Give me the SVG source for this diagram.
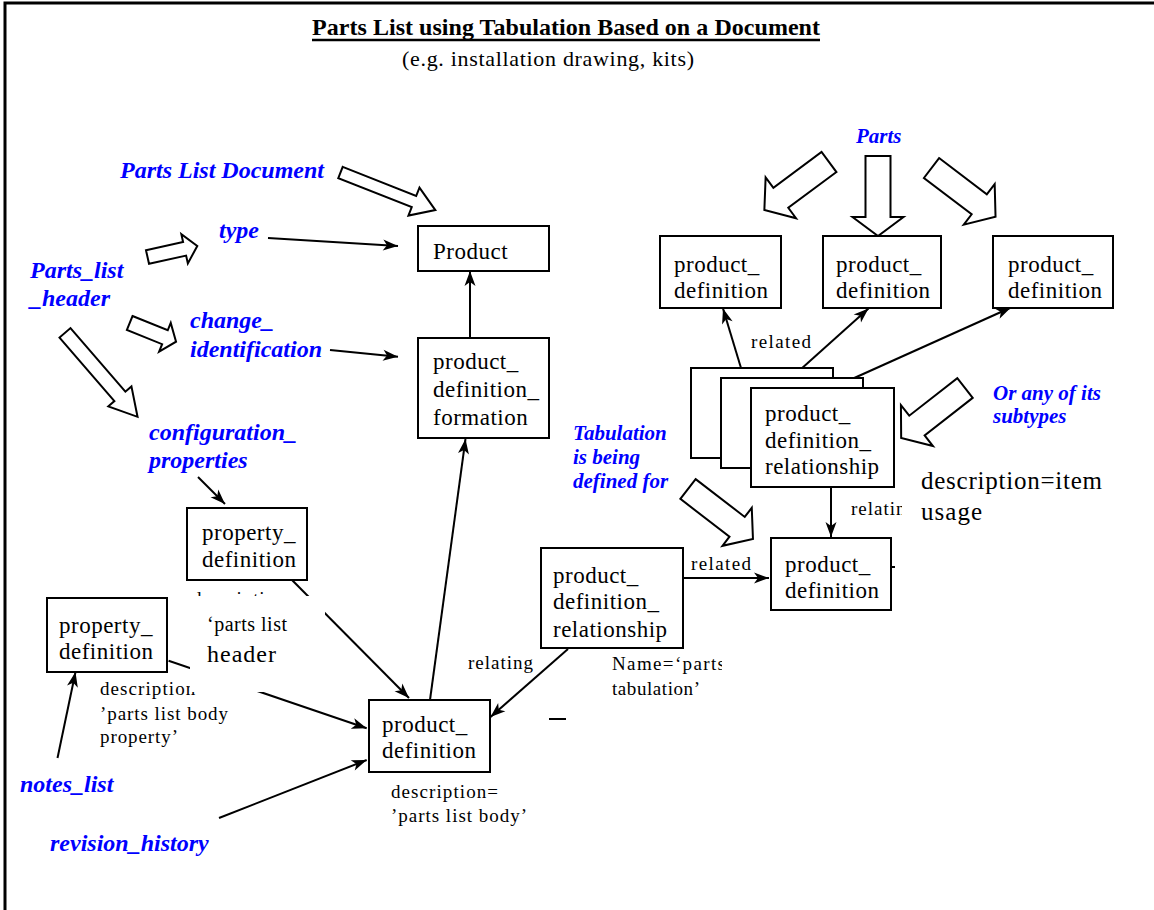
<svg xmlns="http://www.w3.org/2000/svg" width="1154" height="910" viewBox="0 0 1154 910">
  <style>
    .frame { stroke: #000; stroke-width: 3; fill: none; }
    .box { fill: #fff; stroke: #000; stroke-width: 2; }
    .block { fill: #fff; stroke: #000; stroke-width: 2; stroke-linejoin: miter; }
    .conn { stroke: #000; stroke-width: 2; fill: none; marker-end: url(#ah); }
    .plain { stroke: #000; stroke-width: 2; fill: none; }
    .t { font-family: "Liberation Serif", "Times New Roman", serif; fill: #000; }
    .bt { font-family: "Liberation Serif", "Times New Roman", serif; font-size: 23px; letter-spacing: 0.5px; fill: #000; }
    .note { font-family: "Liberation Serif", "Times New Roman", serif; font-size: 19px; fill: #000; }
    .blue { font-family: "Liberation Serif", "Times New Roman", serif; font-weight: bold; font-style: italic; fill: #0000ff; }
    .bl { font-size: 24px; }
    .bs { font-size: 21px; }
  </style>
  <defs>
    <marker id="ah" viewBox="-16 -6 17 12" refX="0" refY="0" markerWidth="17" markerHeight="12" markerUnits="userSpaceOnUse" orient="auto">
      <path d="M0,0 L-15,-5.5 L-11,0 L-15,5.5 Z" fill="#000"/>
    </marker>
    <clipPath id="clipRelating"><rect x="840" y="490" width="62" height="40"/></clipPath>
    <clipPath id="clipName"><rect x="600" y="650" width="122" height="30"/></clipPath>
  </defs>

  <rect x="0" y="0" width="1154" height="910" fill="#fff"/>

  <!-- page frame (top and left rules) -->
  <path class="frame" d="M5,910 V3 H1154"/>

  <!-- heading -->
  <g id="title">
    <text class="t" x="312" y="35" font-size="24" font-weight="bold" textLength="508">Parts List using Tabulation Based on a Document</text>
    <line x1="312" y1="40" x2="820" y2="40" stroke="#000" stroke-width="2.5"/>
    <text class="t" x="402" y="66" font-size="22" textLength="292">(e.g. installation drawing, kits)</text>
  </g>

  <!-- hollow block arrows -->
  <g id="block-arrows">
    <polygon class="block" transform="translate(340.5,172.5) rotate(21.6)" points="0,-6 79,-6 79,-15 102,0 79,15 79,6 0,6"/>
    <polygon class="block" transform="translate(147.5,257) rotate(-12.5)" points="0,-7 38,-7 38,-15 51,0 38,15 38,7 0,7"/>
    <polygon class="block" transform="translate(129.7,323) rotate(22)" points="0,-7.5 38,-7.5 38,-15.5 50,0 38,15.5 38,7.5 0,7.5"/>
    <polygon class="block" transform="translate(65,332.8) rotate(49.2)" points="0,-7.25 84,-7.25 84,-15.25 111,0 84,15.25 84,7.25 0,7.25"/>
    <polygon class="block" transform="translate(829,162) rotate(143.4)" points="0,-12.5 60,-12.5 60,-25.5 80.5,0 60,25.5 60,12.5 0,12.5"/>
    <polygon class="block" transform="translate(878,156) rotate(90)" points="0,-12.5 61,-12.5 61,-25.5 80,0 61,25.5 61,12.5 0,12.5"/>
    <polygon class="block" transform="translate(931.5,168) rotate(37.3)" points="0,-12.5 60,-12.5 60,-25.5 80.5,0 60,25.5 60,12.5 0,12.5"/>
    <polygon class="block" transform="translate(965,388) rotate(142)" points="0,-12.5 61,-12.5 61,-26 81,0 61,26 61,12.5 0,12.5"/>
    <polygon class="block" transform="translate(688,489) rotate(37.6)" points="0,-12.5 62,-12.5 62,-24 82,0 62,24 62,12.5 0,12.5"/>
  </g>

  <!-- annotation text partly covered by the header text box -->
  <g id="covered-notes">
    <text class="note" x="192" y="605" textLength="105">description=</text>
    <text class="note" x="100" y="695" textLength="107">description=</text>
    <text class="note" x="100" y="720" textLength="128">’parts list body</text>
    <text class="note" x="100" y="743" textLength="78">property’</text>
  </g>

  <!-- connectors -->
  <g id="connectors">
    <line class="conn" x1="268" y1="238" x2="398" y2="246"/>
    <line class="conn" x1="330" y1="350" x2="398" y2="356.7"/>
    <line class="conn" x1="470" y1="338" x2="470" y2="271"/>
    <line class="conn" x1="430" y1="700" x2="465.5" y2="439"/>
    <line class="conn" x1="198" y1="477" x2="225" y2="504"/>
    <line class="conn" x1="292" y1="580" x2="409" y2="698"/>
    <line class="conn" x1="168.6" y1="660.7" x2="366.7" y2="728.3"/>
    <line class="conn" x1="57.5" y1="758" x2="75.5" y2="672"/>
    <line class="conn" x1="219" y1="818" x2="366.7" y2="760"/>
    <line class="conn" x1="568" y1="649" x2="490.5" y2="717"/>
    <line class="conn" x1="681" y1="578" x2="769" y2="578"/>
    <line class="conn" x1="831" y1="488" x2="831" y2="537"/>
    <line class="conn" x1="741" y1="368" x2="723" y2="308.5"/>
    <line class="conn" x1="791" y1="378" x2="868.5" y2="308.5"/>
    <line class="conn" x1="832" y1="388" x2="1011" y2="307.5"/>
    <line class="plain" x1="549" y1="719" x2="566" y2="719" stroke-width="1.5"/>
    <line class="plain" x1="890" y1="567" x2="895" y2="567" stroke-width="1.5"/>
  </g>

  <!-- header text box (opaque background) -->
  <g id="header-note">
    <rect x="190" y="596" width="135" height="96" fill="#fff"/>
    <text class="t" x="207" y="631" font-size="20" textLength="80">‘parts list</text>
    <text class="t" x="207" y="662" font-size="24" textLength="69">header</text>
  </g>

  <!-- nodes -->
  <g id="product">
    <rect class="box" x="418" y="226" width="131" height="45"/>
    <text class="bt" x="433" y="259">Product</text>
  </g>
  <g id="product-definition-formation">
    <rect class="box" x="418" y="338" width="131" height="100"/>
    <text class="bt" x="433" y="369">product_</text>
    <text class="bt" x="433" y="397">definition_</text>
    <text class="bt" x="433" y="425">formation</text>
  </g>
  <g id="part-definition-1">
    <rect class="box" x="660" y="236" width="121" height="72"/>
    <text class="bt" x="674" y="272">product_</text>
    <text class="bt" x="674" y="298">definition</text>
  </g>
  <g id="part-definition-2">
    <rect class="box" x="823" y="236" width="118" height="72"/>
    <text class="bt" x="836" y="272">product_</text>
    <text class="bt" x="836" y="298">definition</text>
  </g>
  <g id="part-definition-3">
    <rect class="box" x="993" y="236" width="120" height="72"/>
    <text class="bt" x="1008" y="272">product_</text>
    <text class="bt" x="1008" y="298">definition</text>
  </g>
  <g id="item-usage-stack">
    <rect class="box" x="691" y="368" width="142" height="90"/>
    <rect class="box" x="721" y="378" width="142" height="90"/>
    <rect class="box" x="751" y="388" width="143" height="99"/>
    <text class="bt" x="765" y="421">product_</text>
    <text class="bt" x="765" y="448">definition_</text>
    <text class="bt" x="765" y="474">relationship</text>
  </g>
  <g id="tabulated-definition">
    <rect class="box" x="771" y="538" width="120" height="72"/>
    <text class="bt" x="785" y="572">product_</text>
    <text class="bt" x="785" y="598">definition</text>
  </g>
  <g id="tabulation-relationship">
    <rect class="box" x="541" y="548" width="142" height="100"/>
    <text class="bt" x="553" y="583">product_</text>
    <text class="bt" x="553" y="609">definition_</text>
    <text class="bt" x="553" y="637">relationship</text>
  </g>
  <g id="header-property">
    <rect class="box" x="187" y="508" width="120" height="72"/>
    <text class="bt" x="202" y="540">property_</text>
    <text class="bt" x="202" y="567">definition</text>
  </g>
  <g id="body-property">
    <rect class="box" x="47" y="598" width="120" height="74"/>
    <text class="bt" x="59" y="633">property_</text>
    <text class="bt" x="59" y="659">definition</text>
  </g>
  <g id="parts-list-body">
    <rect class="box" x="369" y="700" width="121" height="72"/>
    <text class="bt" x="382" y="732">product_</text>
    <text class="bt" x="382" y="758">definition</text>
  </g>

  <!-- connector and node annotations -->
  <g id="annotations">
    <text class="note" x="751" y="348" textLength="60">related</text>
    <text class="note" x="851" y="515" textLength="65" clip-path="url(#clipRelating)">relating</text>
    <text class="t" x="921" y="489" font-size="25" textLength="181">description=item</text>
    <text class="t" x="921" y="520" font-size="25" textLength="61">usage</text>
    <text class="note" x="691" y="570" textLength="60">related</text>
    <text class="note" x="612" y="670" textLength="113" clip-path="url(#clipName)">Name=‘parts</text>
    <text class="note" x="612" y="695" textLength="88">tabulation’</text>
    <text class="note" x="468" y="669" textLength="65">relating</text>
    <text class="note" x="391" y="798" textLength="107">description=</text>
    <text class="note" x="391" y="822" textLength="136">’parts list body’</text>
  </g>

  <!-- blue callouts -->
  <g id="callouts">
    <text class="blue bl" x="120" y="178">Parts List Document</text>
    <text class="blue bl" x="219" y="238">type</text>
    <text class="blue bl" x="30" y="278">Parts_list</text>
    <text class="blue bl" x="30" y="306">_header</text>
    <text class="blue bl" x="190" y="328">change_</text>
    <text class="blue bl" x="190" y="357">identification</text>
    <text class="blue bl" x="149" y="440">configuration_</text>
    <text class="blue bl" x="149" y="468">properties</text>
    <text class="blue bl" x="20" y="792">notes_list</text>
    <text class="blue bl" x="50" y="851">revision_history</text>
    <text class="blue bs" x="856" y="143">Parts</text>
    <text class="blue bs" x="993" y="400">Or any of its</text>
    <text class="blue bs" x="993" y="423">subtypes</text>
    <text class="blue bs" x="573" y="440">Tabulation</text>
    <text class="blue bs" x="573" y="464">is being</text>
    <text class="blue bs" x="573" y="488">defined for</text>
  </g>
</svg>
